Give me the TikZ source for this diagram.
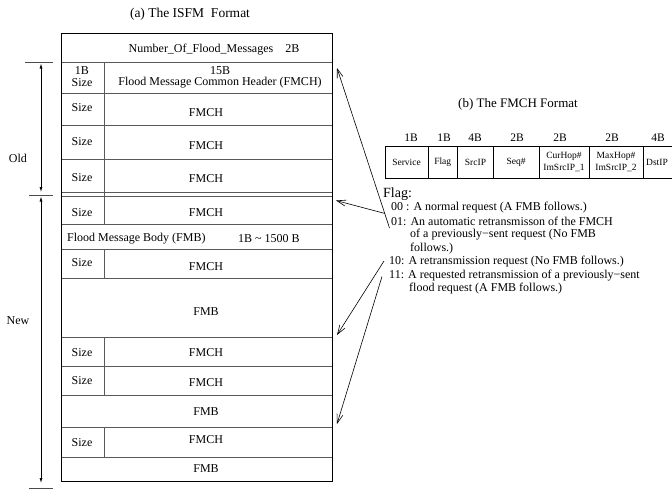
\documentclass[tikz,border=0pt]{standalone}
\usepackage{fontspec}
\setmainfont{Liberation Serif}
\usetikzlibrary{arrows.meta}
\begin{document}
\begin{tikzpicture}[x=1pt,y=-1pt,
  outer/.style={draw=black, line width=0.9pt},
  innerline/.style={draw=black!65, line width=0.9pt},
  txt/.style={inner sep=0pt, font=\fontsize{12}{13}\selectfont},
  flagtxt/.style={inner sep=0pt, anchor=west, font=\fontsize{12}{13}\selectfont},
  lbl/.style={inner sep=0pt, font=\fontsize{11.5}{12}\selectfont},
  cell/.style={inner sep=0pt, align=center, font=\fontsize{9.5}{11.5}\selectfont},
  ptr/.style={draw=black, line width=0.6pt, -{Straight Barb[length=9pt,width=6pt]}},
  spanarrow/.style={draw=black, line width=0.7pt, {Latex[length=5pt,width=3pt]}-{Latex[length=5pt,width=3pt]}},
  tickline/.style={draw=black!70, line width=0.9pt}
]
\useasboundingbox (0,0) rectangle (672,491);

% ---------- (a) ISFM format ----------
\node[inner sep=0pt, font=\fontsize{13.5}{15}\selectfont] (titA) at (190,14) {(a) The ISFM\ \ Format};

\foreach \y in {62,93.5,125,159.5,192,196,224,249,278,337,366,395,427,457}
  \draw[innerline] (61,\y) -- (332,\y);
\draw[innerline] (104,62) -- (104,224);
\draw[innerline] (104,249) -- (104,278);
\draw[innerline] (104,337) -- (104,395);
\draw[innerline] (104,427) -- (104,457);
\draw[outer] (61,33) rectangle (332,481.5);

\node[txt] (nfm) at (214,50) {Number\_Of\_Flood\_Messages\quad 2B};
\node[txt] (h1b) at (82,70.5) {1B};
\node[txt] (h1s) at (82,83) {Size};
\node[txt] (h15) at (220,70.5) {15B};
\node[txt] (hfm) at (220,83) {Flood Message Common Header (FMCH)};

\node[txt] (s2) at (82,108) {Size};   \node[txt] (f2) at (206,112.5) {FMCH};
\node[txt] (s3) at (82,142) {Size};   \node[txt] (f3) at (206,145.5) {FMCH};
\node[txt] (s4) at (82,178) {Size};   \node[txt] (f4) at (206,178.5) {FMCH};
\node[txt] (s5) at (82,212.5) {Size}; \node[txt] (f5) at (206,212.5) {FMCH};
\node[txt,anchor=west] (b1) at (67,238.5) {Flood Message Body (FMB)};
\node[txt,anchor=west] (b1s) at (238,238.5) {1B \textasciitilde{} 1500 B};
\node[txt] (s6) at (82,262.5) {Size}; \node[txt] (f6) at (206,266.5) {FMCH};
\node[txt] (b2) at (206,311.5) {FMB};
\node[txt] (s7) at (82,353) {Size};   \node[txt] (f7) at (206,353) {FMCH};
\node[txt] (s8) at (82,380.5) {Size}; \node[txt] (f8) at (206,382.5) {FMCH};
\node[txt] (b3) at (206,411.5) {FMB};
\node[txt] (s9) at (82,443) {Size};   \node[txt] (f9) at (206,440) {FMCH};
\node[txt] (b4) at (206,469) {FMB};

% left span markers
\draw[tickline] (25,62.5) -- (53,62.5);
\draw[tickline] (29,195.5) -- (53,195.5);
\draw[tickline] (29,488.5) -- (53,488.5);
\coordinate (oT) at (41,63.5);
\coordinate (oB) at (41,192);
\coordinate (nT) at (41,196.5);
\coordinate (nB) at (41,483);
\draw[spanarrow] (oT) -- (oB);
\draw[spanarrow] (nT) -- (nB);
\node[txt] (old) at (18,158) {Old};
\node[txt] (new) at (18,321) {New};

% ---------- (b) FMCH format ----------
\node[inner sep=0pt, font=\fontsize{13}{15}\selectfont] (titB) at (518,104) {(b) The FMCH Format};
\draw[outer] (673,146) -- (385,146) -- (385,178) -- (673,178);
\foreach \x in {428,457.5,493.5,539,589,643.5}
  \draw[outer] (\x,146) -- (\x,178);

\node[lbl] (l1) at (411,138) {1B};
\node[lbl] (l2) at (444,138) {1B};
\node[lbl] (l3) at (475,138) {4B};
\node[lbl] (l4) at (517,138) {2B};
\node[lbl] (l5) at (560,138) {2B};
\node[lbl] (l6) at (612,138) {2B};
\node[lbl] (l7) at (658,138) {4B};

\node[cell] (c1) at (406.5,162.5) {Service};
\node[cell] (c2) at (442.75,162.5) {Flag};
\node[cell] (c3) at (475.5,162.5) {SrcIP};
\node[cell] (c4) at (516,162.5) {Seq\#};
\node[cell] (c5) at (564,162) {CurHop\#\\ImSrcIP\_1};
\node[cell] (c6) at (616,162) {MaxHop\#\\ImSrcIP\_2};
\node[cell] (c7) at (657,162.5) {DstIP};

% flag descriptions
\node[inner sep=0pt, anchor=west, font=\fontsize{14}{15}\selectfont] (flag) at (383,194.5) {Flag:};
\node[flagtxt] (g00) at (391,208) {00 : A normal request (A FMB follows.)};
\node[flagtxt] (g01) at (391,221.5) {01: An automatic retransmisson of the FMCH};
\node[flagtxt] (g01b) at (410,235) {of a previously−sent request (No FMB};
\node[flagtxt] (g01c) at (410,248.5) {follows.)};
\node[flagtxt] (g10) at (389,262) {10: A retransmission request (No FMB follows.)};
\node[flagtxt] (g11) at (389,275.5) {11: A requested retransmission of a previously−sent};
\node[flagtxt] (g11b) at (409,289) {flood request (A FMB follows.)};

% pointers into the ISFM table
\coordinate (p1) at (337,68);
\coordinate (p2) at (336,200.5);
\coordinate (p3) at (337,335);
\coordinate (p4) at (337,424);
\coordinate (q1) at (389.5,228);
\coordinate (q2) at (385,213.5);
\coordinate (q3) at (384,261);
\coordinate (q4) at (382,276.5);
\draw[ptr] (q1) -- (p1);
\draw[ptr] (q2) -- (p2);
\draw[ptr] (q3) -- (p3);
\draw[ptr] (q4) -- (p4);
\end{tikzpicture}
\end{document}
